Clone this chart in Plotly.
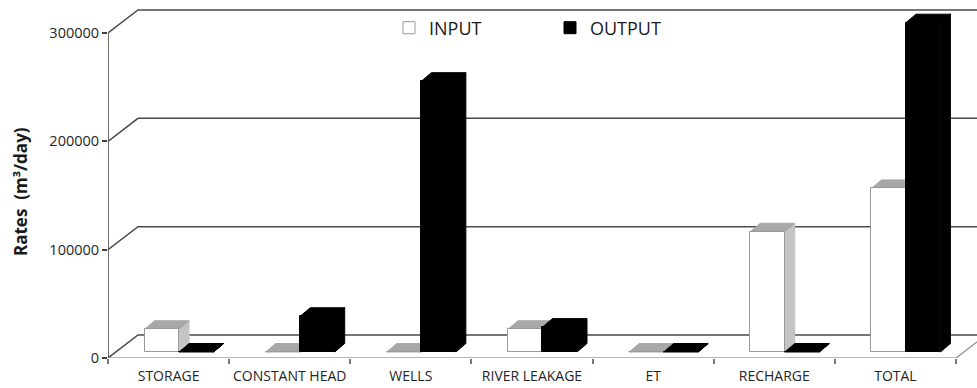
import plotly.graph_objects as go

# Water budget components (m3/day)
categories = ["STORAGE", "CONSTANT HEAD", "WELLS", "RIVER LEAKAGE", "ET", "RECHARGE", "TOTAL"]
input_rates = [21000, 0, 0, 21000, 0, 111000, 151000]
output_rates = [0, 33000, 250000, 23000, 0, 0, 304000]
y_ticks = [0, 100000, 200000, 300000]

# ---- page geometry ----
W, H = 977, 388
ML, MB = 108, 30
PLOT_W, PLOT_H = W - ML, H - MB
PX_PER_CAT = 121.14          # horizontal pixels per category slot
PX_PER_100K = 108.33         # vertical pixels per 100000 m3/day


def dx(px):
    return px / PX_PER_CAT


def dy(px):
    return px * 100000.0 / PX_PER_100K


X_MIN = -0.5
X_MAX = X_MIN + dx(PLOT_W)
Y_MAX = dy(PLOT_H)

# pseudo-3D depth of the floor/back wall and of each column
FLOOR_DX, FLOOR_DY = dx(30), dy(23)
BAR_DX, BAR_DY = dx(10), dy(8.5)
BAR_BASE = dy(6)
BAR_W = dx(34.5)
PAIR_SHIFT = dx(10.5)

n = len(categories)
centers = list(range(n))
in_x = [c + PAIR_SHIFT - BAR_W / 2 for c in centers]
out_x = [c + PAIR_SHIFT + BAR_W / 2 for c in centers]

GRID = "#4a4a4a"
IN_TOP, IN_SIDE = "#a8a8a8", "#c4c4c4"

shapes = []

# back wall gridlines with their receding diagonals
for v in y_ticks:
    shapes.append(dict(
        type="path", layer="below", xref="x", yref="y",
        path=f"M{X_MIN},{v} L{X_MIN + FLOOR_DX},{v + FLOOR_DY} L{X_MAX + 1},{v + FLOOR_DY}",
        line=dict(color=GRID, width=1.5)))

# right edge of the floor
shapes.append(dict(
    type="line", layer="below", xref="x", yref="y",
    x0=n - 0.5, y0=0, x1=n - 0.5 + FLOOR_DX, y1=FLOOR_DY,
    line=dict(color="#9a9a9a", width=1.5)))
# front edge of the floor
shapes.append(dict(
    type="line", layer="below", xref="x", yref="y",
    x0=X_MIN, y0=0, x1=n - 0.5, y1=0,
    line=dict(color="#a0a0a0", width=1.5)))
# value axis line
shapes.append(dict(
    type="line", layer="above", xref="x", yref="y",
    x0=X_MIN, y0=0, x1=X_MIN, y1=y_ticks[-1],
    line=dict(color="#404040", width=1.5)))


def column_faces(xc, value, top_color, side_color):
    x0, x1 = xc - BAR_W / 2, xc + BAR_W / 2
    h = BAR_BASE + value
    top = (f"M{x0},{h} L{x1},{h} L{x1 + BAR_DX},{h + BAR_DY} "
           f"L{x0 + BAR_DX},{h + BAR_DY} Z")
    side = (f"M{x1},{BAR_BASE} L{x1},{h} L{x1 + BAR_DX},{h + BAR_DY} "
            f"L{x1 + BAR_DX},{BAR_BASE + BAR_DY} Z")
    return [
        dict(type="path", layer="below", xref="x", yref="y", path=side,
             fillcolor=side_color, line=dict(color=side_color, width=1)),
        dict(type="path", layer="below", xref="x", yref="y", path=top,
             fillcolor=top_color, line=dict(color=top_color, width=1)),
    ]


for i in range(n):
    shapes += column_faces(in_x[i], input_rates[i], IN_TOP, IN_SIDE)
    shapes += column_faces(out_x[i], output_rates[i], "#000000", "#000000")

fig = go.Figure()
fig.add_trace(go.Bar(
    name="INPUT", x=in_x, y=input_rates, base=BAR_BASE, width=BAR_W,
    marker=dict(color="#ffffff", line=dict(color="#9a9a9a", width=1))))
fig.add_trace(go.Bar(
    name="OUTPUT", x=out_x, y=output_rates, base=BAR_BASE, width=BAR_W,
    marker=dict(color="#000000", line=dict(color="#000000", width=1))))

FONT = "Open Sans"

fig.update_layout(
    width=W, height=H,
    margin=dict(l=ML, r=0, t=0, b=MB, pad=0),
    paper_bgcolor="white", plot_bgcolor="white",
    barmode="overlay", bargap=0,
    shapes=shapes,
    font=dict(family=FONT, color="#2a2a2a"),
    showlegend=True,
    legend=dict(
        orientation="h", x=(389 - ML) / PLOT_W, xanchor="left",
        y=1 - 28 / PLOT_H, yanchor="middle",
        font=dict(family=FONT, size=18, color="#1a1a1a"),
        entrywidth=116, bgcolor="rgba(0,0,0,0)", borderwidth=0,
        traceorder="normal"),
    xaxis=dict(
        range=[X_MIN, X_MAX], showgrid=False, zeroline=False, showline=False,
        tickmode="array", tickvals=centers, ticktext=categories,
        ticks="", ticklabelstandoff=8,
        tickfont=dict(family=FONT, size=14, color="#262626"),
        minor=dict(tickmode="array", tickvals=[c - 0.5 for c in range(n + 1)],
                   ticks="outside", ticklen=5, tickwidth=1.5, tickcolor="#777777"),
        fixedrange=True),
    yaxis=dict(
        range=[0, Y_MAX], showgrid=False, zeroline=False, showline=False,
        tickmode="array", tickvals=y_ticks, ticktext=[str(v) for v in y_ticks],
        ticks="outside", ticklen=5, tickwidth=1.5, tickcolor="#404040",
        tickfont=dict(family=FONT, size=14.5, color="#262626"),
        fixedrange=True),
    annotations=[dict(
        text="<b>Rates  (m³/day)</b>", textangle=-90,
        xref="paper", yref="paper",
        x=(20 - ML) / PLOT_W, y=1 - 192 / PLOT_H,
        xanchor="center", yanchor="middle", showarrow=False,
        font=dict(family=FONT, size=17, color="#1a1a1a"))],
)

fig.write_html("out.html")
